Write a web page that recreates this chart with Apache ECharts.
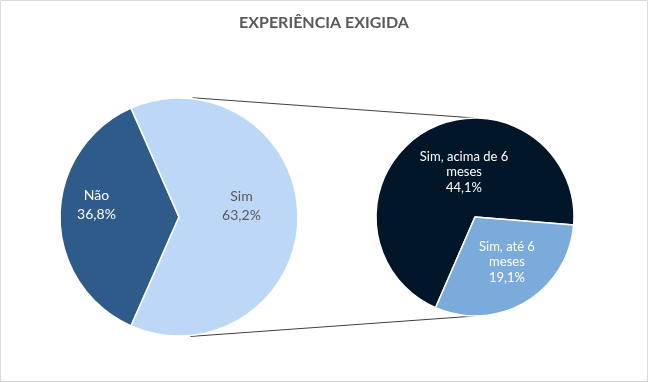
<!DOCTYPE html>
<html>
<head>
<meta charset="utf-8">
<script src="https://cdn.jsdelivr.net/npm/echarts@6/dist/echarts.min.js"></script>
<style>
html,body{margin:0;padding:0;background:#fff;}
#chart{width:648px;height:382px;}
</style>
</head>
<body>
<div id="chart"></div>
<script>
// ---- data ----
const chartTitle = 'EXPERIÊNCIA EXIGIDA';
const mainCategories = ['Não', 'Sim'];
const mainValues = [36.8, 63.2];
const subCategories = ['Sim, acima de 6 meses', 'Sim, até 6 meses'];
const subValues = [44.1, 19.1];

// ---- layout ----
const mainCenter = [179, 217];
const mainRadius = 119;
const subCenter = [475, 217];
const subRadius = 99;
const FONT = 'Lato';

const fmtPct = v => v.toFixed(1).replace('.', ',') + '%';
const wrapName = n => n.replace(/ (meses)$/, '\n$1');
const centerLines = s => s.split('\n').map(l => '{c|' + l + '}').join('\n');

// Não slice centred on the left (180 deg)
const mainStart = 180 + (mainValues[0] / (mainValues[0] + mainValues[1])) * 360 / 2;
// secondary pie: the smaller slice sits lower-right
const subTotal = subValues[0] + subValues[1];
const subStart = -4.7 - (subValues[1] / subTotal) * 360 + 360; // acima first, clockwise

// connector endpoints derived from the pie geometry
const rad = d => d * Math.PI / 180;
function onCircle(c, r, deg) { return [c[0] + r * Math.cos(rad(deg)), c[1] - r * Math.sin(rad(deg))]; }
const topA = onCircle(mainCenter, mainRadius + 1, 83.5);
const botA = onCircle(mainCenter, mainRadius + 1, -84.5);
const topB = onCircle(subCenter, subRadius, 90);
const botB = onCircle(subCenter, subRadius, -90);

const chart = echarts.init(document.getElementById('chart'), null, {renderer: 'canvas'});
chart.setOption({
  backgroundColor: '#ffffff',
  animation: false,
  title: {
    text: chartTitle,
    left: 'center',
    top: 10,
    textStyle: {fontFamily: FONT, fontSize: 16, fontWeight: 'bold', color: '#595959'}
  },
  graphic: [
    {type: 'rect', shape: {x: 0.5, y: 0.5, width: 647, height: 381}, style: {fill: 'none', stroke: '#d9d9d9', lineWidth: 1}, z: -10},
    {type: 'line', shape: {x1: topA[0], y1: topA[1], x2: topB[0], y2: topB[1]}, style: {stroke: '#404040', lineWidth: 1}, z: -5},
    {type: 'line', shape: {x1: botA[0], y1: botA[1], x2: botB[0], y2: botB[1]}, style: {stroke: '#404040', lineWidth: 1}, z: -5}
  ],
  series: [
    {
      type: 'pie',
      center: mainCenter,
      radius: [0, mainRadius],
      startAngle: mainStart,
      clockwise: true,
      silent: true,
      itemStyle: {borderColor: '#ffffff', borderWidth: 1.5},
      label: {
        show: true,
        position: 'inside',
        align: 'center',
        fontFamily: FONT,
        fontSize: 14,
        lineHeight: 19,
        formatter: p => p.name + '\n' + fmtPct(p.value)
      },
      labelLine: {show: false},
      labelLayout: p => (p.dataIndex === 0 ? {dx: -20, dy: -12} : {dx: 0, dy: -11}),
      data: mainCategories.map((n, i) => ({
        name: n,
        value: mainValues[i],
        itemStyle: {color: i === 0 ? '#2e5b89' : '#bdd7f6'},
        label: {color: i === 0 ? '#ffffff' : '#595959'}
      }))
    },
    {
      type: 'pie',
      center: subCenter,
      radius: [0, subRadius],
      startAngle: subStart,
      clockwise: true,
      silent: true,
      itemStyle: {borderColor: '#ffffff', borderWidth: 1.5},
      label: {
        show: true,
        position: 'inside',
        align: 'center',
        fontFamily: FONT,
        fontSize: 13,
        lineHeight: 15.5,
        color: '#ffffff',
        formatter: p => centerLines(wrapName(p.name) + '\n' + fmtPct(p.value)),
        rich: {
          c: {width: 100, align: 'center', fontFamily: FONT, fontSize: 13, lineHeight: 15.5, color: '#ffffff'}
        }
      },
      labelLine: {show: false},
      labelLayout: p => (p.dataIndex === 0 ? {dx: 16, dy: 0} : {dx: 5, dy: 0}),
      data: subCategories.map((n, i) => ({
        name: n,
        value: subValues[i],
        itemStyle: {color: i === 0 ? '#02162a' : '#7babda'}
      }))
    }
  ]
});
</script>
</body>
</html>
